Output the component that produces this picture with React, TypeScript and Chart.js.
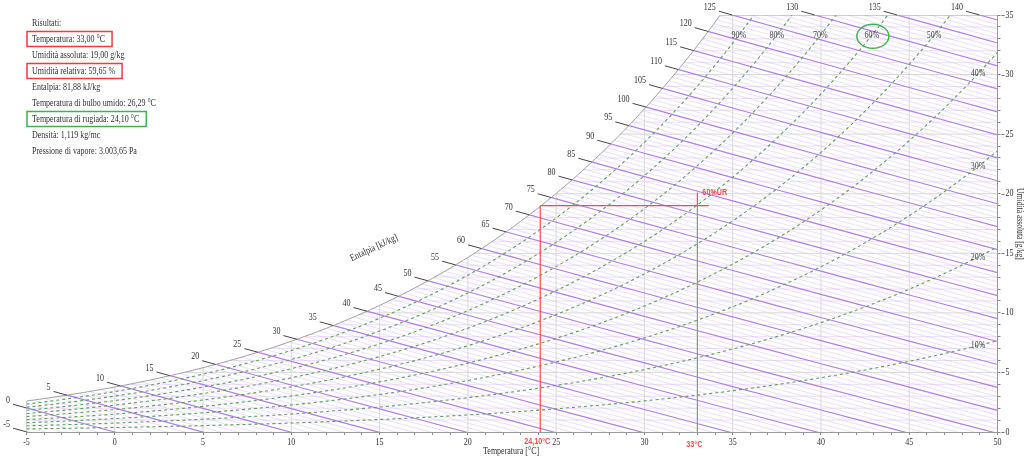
import React, { useEffect, useRef } from "react";
import { Chart, registerables } from "chart.js";

Chart.register(...registerables);

// ---------- data ----------
const temperatureTicks = [-5, 0, 5, 10, 15, 20, 25, 30, 35, 40, 45, 50];
const humidityTicks = [0, 5, 10, 15, 20, 25, 30, 35];
const enthalpyLabels = [-5, 0, 5, 10, 15, 20, 25, 30, 35, 40, 45, 50, 55, 60, 65, 70, 75, 80, 85, 90, 95, 100, 105, 110, 115, 120, 125, 130, 135, 140];
const rhLevels = [10, 20, 30, 40, 50, 60, 70, 80, 90];
const gridTemperatures = [0, 5, 10, 15, 20, 25, 30, 35, 40, 45];
const gridHumidities = [5, 10, 15, 20, 25, 30];
const resultLines = [
  "Risultati:",
  "Temperatura: 33,00 °C",
  "Umidità assoluta: 19,00 g/kg",
  "Umidità relativa: 59,65 %",
  "Entalpia: 81,88 kJ/kg",
  "Temperatura di bulbo umido: 26,29 °C",
  "Temperatura di rugiada: 24,10 °C",
  "Densità: 1,119 kg/mc",
  "Pressione di vapore: 3.003,65 Pa",
];
const boxedRed = [1, 3];
const boxedGreen = [6];
const stateTemperature = 33;
const stateHumidity = 19;
const dewPointTemperature = 24.1;
const stateRHLabel = "60%UR";
const dewLabel = "24,10°C";
const stateTempLabel = "33°C";
const highlightedRH = 60;

// ---------- psychrometrics ----------
const P_ATM = 101325;
const T_MIN = -5, T_MAX = 50, W_MAX = 35;
const pws = (T: number) => 611.2 * Math.exp((17.62 * T) / (243.12 + T));
const wFromPw = (pw: number) => (622 * pw) / (P_ATM - pw);
const wSat = (T: number) => wFromPw(pws(T));
const wRH = (T: number, rh: number) => wFromPw((rh / 100) * pws(T));
const wEnth = (h: number, T: number) => (1000 * (h - 1.006 * T)) / (2501 + 1.86 * T);
const upper = (T: number) => Math.min(wSat(T), W_MAX);

function bisect(f: (t: number) => number, a: number, b: number) {
  let fa = f(a);
  for (let i = 0; i < 80; i++) {
    const m = (a + b) / 2;
    const fm = f(m);
    if ((fm > 0) === (fa > 0)) { a = m; fa = fm; } else { b = m; }
  }
  return (a + b) / 2;
}
const T_TOP = bisect((t) => wSat(t) - W_MAX, 0, 60);

// colors
const C_MINOR = "rgba(200,160,240,0.34)";
const C_GRID = "#d9d9d9";
const C_ENTH = "#b47cf0";
const C_RH = "#5aa05a";
const C_BORDER = "#a0a0a0";
const C_RED = "#ff4a4a";
const C_GREEN = "#5cb860";
const SERIF = '"Liberation Serif", "Times New Roman", serif';
const SANS = '"Liberation Sans", Arial, sans-serif';

type Pt = { x: number; y: number };

function lineDs(data: Pt[], color: string, width: number, extra: any = {}) {
  return {
    data,
    showLine: true,
    borderColor: color,
    backgroundColor: color,
    borderWidth: width,
    pointRadius: 0,
    pointHoverRadius: 0,
    fill: false,
    tension: 0,
    ...extra,
  };
}

function enthalpyPoints(h: number): Pt[] {
  const pts: Pt[] = [];
  for (let T = -10; T <= 55; T += 2.5) pts.push({ x: T, y: wEnth(h, T) });
  return pts;
}

function buildDatasets() {
  const list: any[] = [];
  for (let w = 1; w < W_MAX; w++) {
    if (w % 5 === 0) continue;
    list.push(lineDs([{ x: -10, y: w }, { x: 55, y: w }], C_MINOR, 1, { clipRegion: true }));
  }
  for (let h = -5; h <= 140; h++) {
    if (h % 5 === 0) continue;
    list.push(lineDs(enthalpyPoints(h), C_MINOR, 1, { clipRegion: true }));
  }
  gridTemperatures.forEach((t) =>
    list.push(lineDs([{ x: t, y: 0 }, { x: t, y: W_MAX }], C_GRID, 1, { clipRegion: true }))
  );
  gridHumidities.forEach((w) =>
    list.push(lineDs([{ x: -10, y: w }, { x: 55, y: w }], C_GRID, 1, { clipRegion: true }))
  );
  enthalpyLabels.forEach((h) =>
    list.push(lineDs(enthalpyPoints(h), C_ENTH, 1.2, { clipRegion: true }))
  );
  rhLevels.forEach((rh) => {
    const pts: Pt[] = [];
    for (let T = T_MIN; T <= T_MAX + 0.001; T += 0.5) pts.push({ x: T, y: wRH(T, rh) });
    list.push(lineDs(pts, C_RH, 1.1, { clipRegion: true, borderDash: [3, 3] }));
  });
  const sat: Pt[] = [];
  for (let T = T_MIN; T < T_TOP; T += 0.25) sat.push({ x: T, y: wSat(T) });
  sat.push({ x: T_TOP, y: W_MAX });
  list.push(lineDs(sat, C_BORDER, 1));
  list.push(lineDs([{ x: T_MIN, y: 0 }, { x: T_MIN, y: wSat(T_MIN) }], C_BORDER, 1));
  list.push(lineDs([{ x: T_TOP, y: W_MAX }, { x: T_MAX, y: W_MAX }], C_BORDER, 1));
  list.push(lineDs([{ x: stateTemperature, y: 0 }, { x: stateTemperature, y: stateHumidity }], C_GREEN, 1.2));
  list.push(lineDs([{ x: dewPointTemperature, y: 0 }, { x: dewPointTemperature, y: stateHumidity }], C_RED, 1.2));
  list.push(lineDs([{ x: dewPointTemperature, y: stateHumidity }, { x: stateTemperature + 0.65, y: stateHumidity }], C_RED, 1.2));
  list.push(lineDs([{ x: stateTemperature, y: stateHumidity }, { x: stateTemperature, y: stateHumidity + 1.1 }], C_RED, 1.2));
  return list.reverse();
}

function txt(
  ctx: CanvasRenderingContext2D,
  s: string,
  x: number,
  y: number,
  o: { size: number; color?: string; bold?: boolean; family?: string; align?: CanvasTextAlign; baseline?: CanvasTextBaseline; rot?: number; sx?: number }
) {
  ctx.save();
  ctx.translate(x, y);
  if (o.rot) ctx.rotate(o.rot);
  ctx.scale(o.sx ?? 0.8, 1);
  ctx.font = `${o.bold ? "bold " : ""}${o.size}px ${o.family ?? SERIF}`;
  ctx.fillStyle = o.color ?? "#333";
  ctx.textAlign = o.align ?? "left";
  ctx.textBaseline = o.baseline ?? "middle";
  ctx.fillText(s, 0, 0);
  const w = ctx.measureText(s).width * (o.sx ?? 0.8);
  ctx.restore();
  return w;
}

function regionPath(chart: any) {
  const xs = chart.scales.x, ys = chart.scales.y, ctx = chart.ctx;
  const px = (v: number) => xs.getPixelForValue(v);
  const py = (v: number) => ys.getPixelForValue(v);
  ctx.beginPath();
  ctx.moveTo(px(T_MIN), py(0));
  for (let T = T_MIN; T < T_TOP; T += 0.25) ctx.lineTo(px(T), py(wSat(T)));
  ctx.lineTo(px(T_TOP), py(W_MAX));
  ctx.lineTo(px(T_MAX), py(W_MAX));
  ctx.lineTo(px(T_MAX), py(0));
  ctx.closePath();
}

const psychroPlugin = {
  id: "psychro",
  beforeDatasetDraw(chart: any, args: any) {
    const ds = chart.data.datasets[args.index];
    if (ds.clipRegion) {
      chart.ctx.save();
      regionPath(chart);
      chart.ctx.clip();
    }
  },
  afterDatasetDraw(chart: any, args: any) {
    const ds = chart.data.datasets[args.index];
    if (ds.clipRegion) chart.ctx.restore();
  },
  afterDraw(chart: any) {
    const ctx: CanvasRenderingContext2D = chart.ctx;
    const xs = chart.scales.x, ys = chart.scales.y;
    const px = (v: number) => xs.getPixelForValue(v);
    const py = (v: number) => ys.getPixelForValue(v);
    const area = chart.chartArea;

    temperatureTicks.forEach((t) =>
      txt(ctx, String(t), px(t), 442, { size: 10, align: "center" })
    );
    humidityTicks.forEach((w) => {
      const y = py(w);
      ctx.strokeStyle = "#777";
      ctx.lineWidth = 1;
      ctx.beginPath();
      ctx.moveTo(area.right + 4, Math.round(y) + 0.5);
      ctx.lineTo(area.right + 7, Math.round(y) + 0.5);
      ctx.stroke();
      txt(ctx, String(w), area.right + 8, y, { size: 10 });
    });

    enthalpyLabels.forEach((h) => {
      let T0: number, W0: number;
      if (wEnth(h, T_MIN) <= wSat(T_MIN)) {
        T0 = T_MIN;
        W0 = wEnth(h, T_MIN);
      } else {
        T0 = bisect((t) => wEnth(h, t) - upper(t), T_MIN, 60);
        W0 = wEnth(h, T0);
      }
      const x0 = px(T0), y0 = py(W0);
      const x1 = px(T0 - 1), y1 = py(wEnth(h, T0 - 1));
      const d = Math.hypot(x1 - x0, y1 - y0);
      const ex = x0 + ((x1 - x0) / d) * 14;
      const ey = y0 + ((y1 - y0) / d) * 14;
      ctx.strokeStyle = "#444";
      ctx.lineWidth = 1;
      ctx.beginPath();
      ctx.moveTo(x0, y0);
      ctx.lineTo(ex, ey);
      ctx.stroke();
      txt(ctx, String(h), ex - 3, ey - 4, { size: 10, align: "right" });
    });

    rhLevels.forEach((rh) => {
      let T = bisect((t) => wRH(t, rh) - 33.3, T_MIN, 70);
      let W = 33.3;
      if (T > 48.9) {
        T = 48.9;
        W = wRH(T, rh);
      }
      const x = px(T), y = py(W);
      txt(ctx, `${rh}%`, x, y, { size: 10, align: "center", color: "#444" });
      if (rh === highlightedRH) {
        ctx.strokeStyle = "#3cb44b";
        ctx.lineWidth = 1.5;
        ctx.beginPath();
        ctx.ellipse(x + 1, y + 1, 16, 12, 0, 0, Math.PI * 2);
        ctx.stroke();
      }
    });

    txt(ctx, "Entalpia [kJ/kg]", 374, 248, { size: 10, align: "center", rot: (-25 * Math.PI) / 180 });
    txt(ctx, "Temperatura [°C]", 483, 451, { size: 10 });
    txt(ctx, "Umidità assoluta [g/kg]", 1019, 224, { size: 9.5, align: "center", rot: Math.PI / 2 });

    txt(ctx, stateRHLabel, px(stateTemperature) + 5, py(stateHumidity + 1.1), { size: 9, bold: true, family: SANS, color: C_RED });
    txt(ctx, dewLabel, px(dewPointTemperature) + 10, 441.5, { size: 9, bold: true, family: SANS, color: C_RED, align: "right" });
    txt(ctx, stateTempLabel, px(stateTemperature) - 3, 445, { size: 9, bold: true, family: SANS, color: C_RED, align: "center" });

    resultLines.forEach((s, i) => {
      const y = 23 + i * 16;
      const w = txt(ctx, s, 32, y, { size: 10 });
      const boxColor = boxedRed.includes(i) ? "#ee3b3b" : boxedGreen.includes(i) ? "#3cb44b" : null;
      if (boxColor) {
        ctx.strokeStyle = boxColor;
        ctx.lineWidth = 1.5;
        ctx.strokeRect(27, y - 7.5, w + 12, 15);
      }
    });
  },
};

export default function App() {
  const ref = useRef<HTMLCanvasElement>(null);
  useEffect(() => {
    if (!ref.current) return;
    const chart = new Chart(ref.current, {
      type: "scatter",
      data: { datasets: buildDatasets() },
      options: {
        responsive: false,
        animation: false,
        events: [],
        layout: { padding: { left: 26.5, top: 15, right: 0, bottom: 0 } },
        plugins: { legend: { display: false }, tooltip: { enabled: false } },
        scales: {
          x: {
            type: "linear",
            position: "bottom",
            min: T_MIN,
            max: T_MAX,
            ticks: { display: false, stepSize: 1, autoSkip: false },
            grid: { drawOnChartArea: false, drawTicks: true, tickLength: 3, color: "#888" },
            border: { display: true, color: "#999", width: 1 },
            afterFit: (s: any) => { s.height = 27; },
          },
          y: {
            type: "linear",
            position: "right",
            min: 0,
            max: W_MAX,
            ticks: { display: false, stepSize: 1, autoSkip: false },
            grid: { drawOnChartArea: false, drawTicks: true, tickLength: 3, color: "#888" },
            border: { display: true, color: "#999", width: 1 },
            afterFit: (s: any) => { s.width = 26.5; },
          },
        },
      } as any,
      plugins: [psychroPlugin],
    });
    return () => chart.destroy();
  }, []);
  return (
    <div style={{ position: "absolute", left: 0, top: 0, width: 1024, height: 459, background: "#fff" }}>
      <canvas ref={ref} width={1024} height={459} />
    </div>
  );
}
